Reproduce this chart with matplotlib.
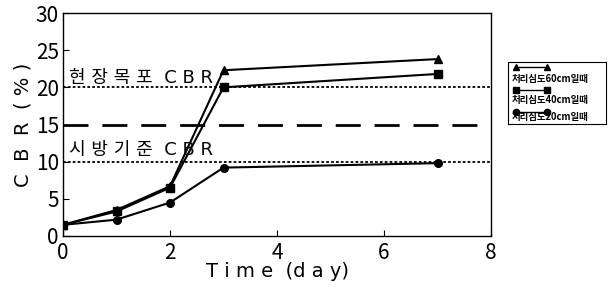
import matplotlib
matplotlib.use("Agg")
import matplotlib.pyplot as plt
from matplotlib.lines import Line2D

plt.rcParams['font.family'] = ['Noto Sans CJK KR', 'DejaVu Sans']

# Data
days = [0, 1, 2, 3, 7]
cbr_60 = [1.5, 3.5, 6.7, 22.3, 23.8]
cbr_40 = [1.5, 3.3, 6.5, 20.0, 21.8]
cbr_20 = [1.5, 2.2, 4.5, 9.2, 9.8]
series_labels = ['처리심도60cm일때', '처리심도40cm일때', '처리심도20cm일때']
series_markers = ['^', 's', 'o']

field_cbr = 20
spec_cbr = 10
mid_line = 15
field_text = '현 장 목 포  C B R'
spec_text = '시 방 기 준  C B R'

x_ticks = [0, 2, 4, 6, 8]
y_ticks = [0, 5, 10, 15, 20, 25, 30]

fig = plt.figure(figsize=(6.1, 2.85), dpi=100)
ax = fig.add_axes([63 / 610, 1 - 236 / 285, 428 / 610, 223 / 285])

# Reference lines
ax.axhline(field_cbr, color='black', lw=1.3, ls=(0, (1.5, 1.2)))
ax.axhline(spec_cbr, color='black', lw=1.3, ls=(0, (1.5, 1.2)))
ax.axhline(mid_line, color='black', lw=2.0, ls=(0, (9, 5)))

# Series
for vals, mk in zip([cbr_60, cbr_40, cbr_20], series_markers):
    ax.plot(days, vals, color='black', lw=1.5, marker=mk, ms=5.5)

ax.text(0.12, field_cbr + 0.1, field_text, fontsize=13, va='bottom',
        family=['DejaVu Sans', 'Noto Sans CJK KR'])
ax.text(0.12, spec_cbr + 0.3, spec_text, fontsize=13, va='bottom',
        family=['DejaVu Sans', 'Noto Sans CJK KR'])

ax.set_xlim(0, 8)
ax.set_ylim(0, 30)
ax.set_xticks(x_ticks)
ax.set_yticks(y_ticks)
ax.tick_params(labelsize=15, direction='in', length=4)
ax.tick_params(axis='x', pad=4)
ax.tick_params(axis='y', pad=3)
ax.set_xlabel('T i m e  (d a y)', fontsize=14, labelpad=-1,
              family='DejaVu Sans')
ax.set_ylabel('C  B  R  ( % )', fontsize=14, labelpad=2,
              family='DejaVu Sans')
for s in ax.spines.values():
    s.set_linewidth(1.0)

# Legend drawn outside at right
lax = fig.add_axes([508 / 610, 1 - 124 / 285, 98 / 610, 62 / 285])
lax.set_xlim(0, 1)
lax.set_ylim(0, 1)
lax.set_xticks([])
lax.set_yticks([])
rows = [(0.92, 0.73), (0.55, 0.38), (0.2, 0.12)]
for (ly, ty), mk, lab in zip(rows, series_markers, series_labels):
    lax.add_line(Line2D([0.08, 0.4], [ly, ly], color='black', lw=1.0,
                        marker=mk, ms=4.5))
    lax.text(0.04, ty, lab, fontsize=6.8, fontweight='bold', va='center')

fig.savefig('out.png', dpi=100)
